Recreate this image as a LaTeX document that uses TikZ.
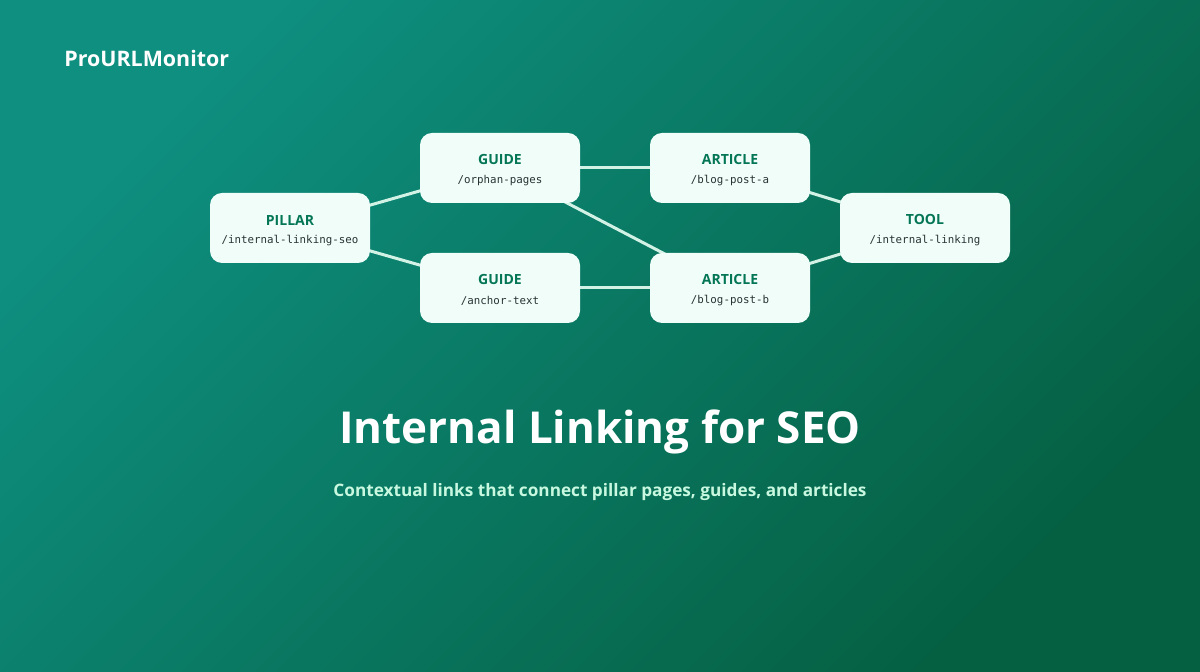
\documentclass[tikz,border=0pt]{standalone}
\usepackage{fontspec}
\setmainfont{Open Sans}
\newfontfamily\monof{DejaVu Sans Mono}
\definecolor{bgA}{RGB}{14,143,128}
\definecolor{bgB}{RGB}{5,96,66}
\definecolor{boxfill}{RGB}{240,253,248}
\definecolor{typec}{RGB}{4,118,86}
\definecolor{pathc}{RGB}{40,52,52}
\definecolor{edgec}{RGB}{210,242,230}
\definecolor{subc}{RGB}{200,248,224}
\pgfdeclarelayer{bg}
\pgfsetlayers{bg,main}
\tikzset{
  pagebox/.style={draw=none, fill=boxfill, rounded corners=6pt, minimum height=35pt, minimum width=80pt, inner sep=0pt},
  typelbl/.style={font=\fontsize{7}{8}\selectfont\bfseries, text=typec, inner sep=0pt},
  pathlbl/.style={font=\monof\fontsize{5.4}{6}\selectfont, text=pathc, inner sep=0pt},
  link/.style={draw=edgec, line width=1.5pt},
}
\begin{document}
\begin{tikzpicture}[x=0.5pt,y=-0.5pt]
\useasboundingbox (0,0) rectangle (1200,672);
\begin{pgfonlayer}{bg}
\shade[top color=bgA, bottom color=bgB, shading angle=45] (0,0) rectangle (1200,672);
\end{pgfonlayer}
\node[anchor=west, text=white, font=\fontsize{10.7}{12}\selectfont\bfseries, inner sep=0pt] (brand) at (64,58) {ProURLMonitor};
% boxes
\node[pagebox] (pillar) at (290,228) {};
\node[pagebox] (guideA) at (500,168) {};
\node[pagebox] (guideB) at (500,288) {};
\node[pagebox] (artA) at (730,168) {};
\node[pagebox] (artB) at (730,288) {};
\node[pagebox, minimum width=85pt] (tool) at (925,228) {};
% links behind boxes
\begin{pgfonlayer}{bg}
\draw[link] (pillar.center) -- (guideA.center);
\draw[link] (pillar.center) -- (guideB.center);
\draw[link] (guideA.center) -- (artA.center);
\draw[link] (guideB.center) -- (artB.center);
\draw[link] (guideA.center) -- (artB.center);
\draw[link] (artA.center) -- (tool.center);
\draw[link] (artB.center) -- (tool.center);
\end{pgfonlayer}
% labels
\node[typelbl] (pillarT) at (290,220) {PILLAR};
\node[pathlbl] (pillarP) at (290,241) {/internal-linking-seo};
\node[typelbl] (guideAT) at (500,160) {GUIDE};
\node[pathlbl] (guideAP) at (500,181) {/orphan-pages};
\node[typelbl] (guideBT) at (500,280) {GUIDE};
\node[pathlbl] (guideBP) at (500,301) {/anchor-text};
\node[typelbl] (artAT) at (730,160) {ARTICLE};
\node[pathlbl] (artAP) at (730,181) {/blog-post-a};
\node[typelbl] (artBT) at (730,280) {ARTICLE};
\node[pathlbl] (artBP) at (730,301) {/blog-post-b};
\node[typelbl] (toolT) at (925,220) {TOOL};
\node[pathlbl] (toolP) at (925,241) {/internal-linking};
% titles
\node[text=white, font=\fontsize{22}{26}\selectfont\bfseries, inner sep=0pt] (title) at (600,432) {Internal Linking for SEO};
\node[text=subc, font=\fontsize{8.6}{11}\selectfont\bfseries, inner sep=0pt] (subtitle) at (600,492) {Contextual links that connect pillar pages, guides, and articles};
\end{tikzpicture}
\end{document}
